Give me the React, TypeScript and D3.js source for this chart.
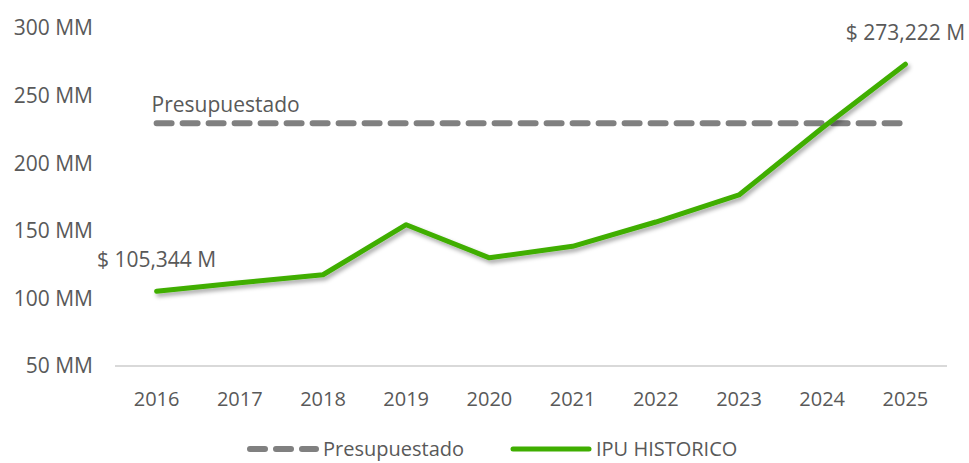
import React, { useEffect, useRef } from 'react'
import * as d3 from 'd3'

// data
const years = ['2016', '2017', '2018', '2019', '2020', '2021', '2022', '2023', '2024', '2025']
const ipuHistorico = [105.344, 111.5, 117.5, 154.5, 130, 138.5, 156.5, 176.5, 226, 273.222]
const presupuestado = [229.5, 229.5, 229.5, 229.5, 229.5, 229.5, 229.5, 229.5, 229.5, 229.5]
const yTicks = [50, 100, 150, 200, 250, 300]
const endLabels = ['$ 105,344 M', '$ 273,222 M']

const W = 969
const H = 463
const FONT = '"Open Sans", sans-serif'
const TEXT = '#595959'
const GREEN = '#3fae00'
const GREY = '#808080'

export default function App() {
    const ref = useRef<SVGSVGElement>(null)

    useEffect(() => {
        const svg = d3.select(ref.current)
        svg.selectAll('*').remove()

        let margins = { l: 115, r: 22, t: 28, b: 97 }

        let xScale = d3.scaleBand()
            .domain(years)
            .range([margins.l, W - margins.r])

        let yScale = d3.scaleLinear()
            .domain([50, 300])
            .range([H - margins.b, margins.t])

        let cx = (d: string) => (xScale(d) as number) + xScale.bandwidth() / 2

        // shadow for the green line
        let defs = svg.append('defs')
        let f = defs.append('filter').attr('id', 'shadow')
            .attr('x', '-10%').attr('y', '-10%').attr('width', '120%').attr('height', '130%')
        f.append('feDropShadow')
            .attr('dx', 2).attr('dy', 3).attr('stdDeviation', 2)
            .attr('flood-color', '#000').attr('flood-opacity', 0.35)

        // y tick labels
        svg.append('g').selectAll('text').data(yTicks).join('text')
            .attr('x', 93)
            .attr('y', d => yScale(d))
            .attr('dy', '0.35em')
            .attr('text-anchor', 'end')
            .attr('font-family', FONT).attr('font-size', 21)
            .attr('fill', TEXT)
            .text(d => `${d} MM`)

        // base line
        svg.append('line')
            .attr('x1', margins.l).attr('x2', W - margins.r)
            .attr('y1', yScale(50)).attr('y2', yScale(50))
            .attr('stroke', '#d9d9d9').attr('stroke-width', 2)

        // x labels
        svg.append('g').selectAll('text').data(years).join('text')
            .attr('x', d => cx(d))
            .attr('y', 406)
            .attr('text-anchor', 'middle')
            .attr('font-family', FONT).attr('font-size', 20)
            .attr('fill', TEXT)
            .text(d => d)

        let line = d3.line<number>()
            .x((d, i) => cx(years[i]))
            .y(d => yScale(d))

        // presupuestado dashed
        svg.append('path')
            .datum(presupuestado)
            .attr('d', line)
            .attr('fill', 'none')
            .attr('stroke', GREY).attr('stroke-width', 6)
            .attr('stroke-linecap', 'round')
            .attr('stroke-dasharray', '15 11')

        svg.append('text')
            .attr('x', cx(years[0]) - 5)
            .attr('y', yScale(presupuestado[0]) - 11)
            .attr('font-family', FONT).attr('font-size', 21)
            .attr('fill', TEXT)
            .text('Presupuestado')

        // IPU historico
        svg.append('path')
            .datum(ipuHistorico)
            .attr('d', line)
            .attr('fill', 'none')
            .attr('stroke', GREEN).attr('stroke-width', 5)
            .attr('stroke-linejoin', 'round')
            .attr('stroke-linecap', 'round')
            .attr('filter', 'url(#shadow)')

        // end labels
        let ends = [0, years.length - 1]
        svg.append('g').selectAll('text').data(ends).join('text')
            .attr('x', i => cx(years[i]))
            .attr('y', i => yScale(ipuHistorico[i]) - 24)
            .attr('text-anchor', 'middle')
            .attr('font-family', FONT).attr('font-size', 21)
            .attr('fill', TEXT)
            .text((i, k) => endLabels[k])

        // legend
        let legend = svg.append('g').attr('transform', `translate(0, 449)`)
        legend.append('line')
            .attr('x1', 250).attr('x2', 316).attr('y1', 0).attr('y2', 0)
            .attr('stroke', GREY).attr('stroke-width', 6)
            .attr('stroke-linecap', 'round')
            .attr('stroke-dasharray', '15 11')
        legend.append('text')
            .attr('x', 323).attr('y', 0).attr('dy', '0.35em')
            .attr('font-family', FONT).attr('font-size', 20)
            .attr('fill', TEXT)
            .text('Presupuestado')
        legend.append('line')
            .attr('x1', 513).attr('x2', 589).attr('y1', 0).attr('y2', 0)
            .attr('stroke', GREEN).attr('stroke-width', 5)
            .attr('stroke-linecap', 'round')
        legend.append('text')
            .attr('x', 596).attr('y', 0).attr('dy', '0.35em')
            .attr('font-family', FONT).attr('font-size', 20)
            .attr('fill', TEXT)
            .text('IPU HISTORICO')
    }, [])

    return (
        <svg ref={ref} width={W} height={H}
            style={{ position: 'absolute', left: 0, top: 0, background: '#fff' }} />
    )
}
